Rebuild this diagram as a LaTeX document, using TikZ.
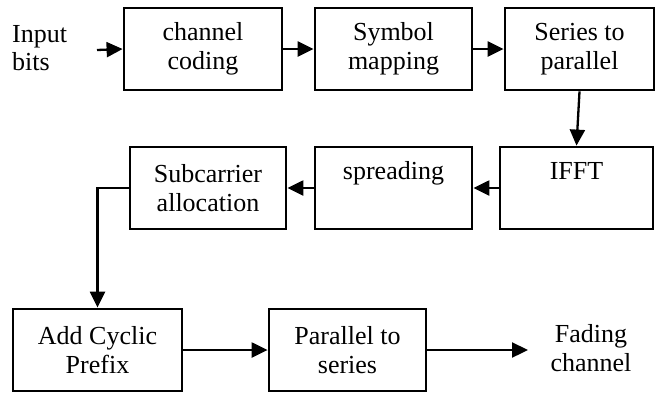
\documentclass[tikz,border=0pt]{standalone}
\usepackage{fontspec}
\setmainfont{Liberation Serif}
\usetikzlibrary{arrows.meta}
\begin{document}
\begin{tikzpicture}[x=1pt,y=-1pt,
  every node/.style={font=\fontsize{26}{28.5}\selectfont, inner sep=0pt},
  blk/.style={draw, line width=2.8pt, align=center},
  arr/.style={line width=2.3pt, -{Triangle[length=16pt,width=15pt]}}]
\useasboundingbox (0,0) rectangle (663,394);
% row 1
\node[align=left, anchor=west] (inp) at (12,48) {Input\\bits};
\coordinate (instart) at (97,50);
\node[blk, minimum width=158pt, minimum height=82pt] (b1) at (203,49) {channel\\coding};
\node[blk, minimum width=157pt, minimum height=82pt] (b2) at (393.5,49) {Symbol\\mapping};
\node[blk, minimum width=149pt, minimum height=82pt] (b3) at (579.5,49) {Series to\\parallel};
% row 2
\node[blk, minimum width=153pt, minimum height=82pt] (ifft) at (576.5,188) {\strut IFFT\\\strut};
\node[blk, minimum width=157pt, minimum height=82pt] (spr) at (393.5,188) {\strut spreading\\\strut};
\node[blk, minimum width=156pt, minimum height=82pt] (sub) at (208,188) {Subcarrier\\allocation};
% row 3
\node[blk, minimum width=169pt, minimum height=82pt] (acp) at (97.5,350) {Add Cyclic\\Prefix};
\node[blk, minimum width=157pt, minimum height=82pt] (ps) at (347.5,350) {Parallel to\\series};
\node[align=center] (fad) at (591,348) {Fading\\channel};
\coordinate (fadin) at (528,350);
% connectors
\draw[arr] (instart) -- (b1.west);
\draw[arr] (b1) -- (b2);
\draw[arr] (b2) -- (b3);
\draw[arr] (b3.south) -- (ifft.north);
\draw[arr] (ifft) -- (spr);
\draw[arr] (spr) -- (sub);
\draw[arr] (sub.west) -| (acp.north);
\draw[arr] (acp) -- (ps);
\draw[arr] (ps.east) -- (fadin);
\end{tikzpicture}
\end{document}
